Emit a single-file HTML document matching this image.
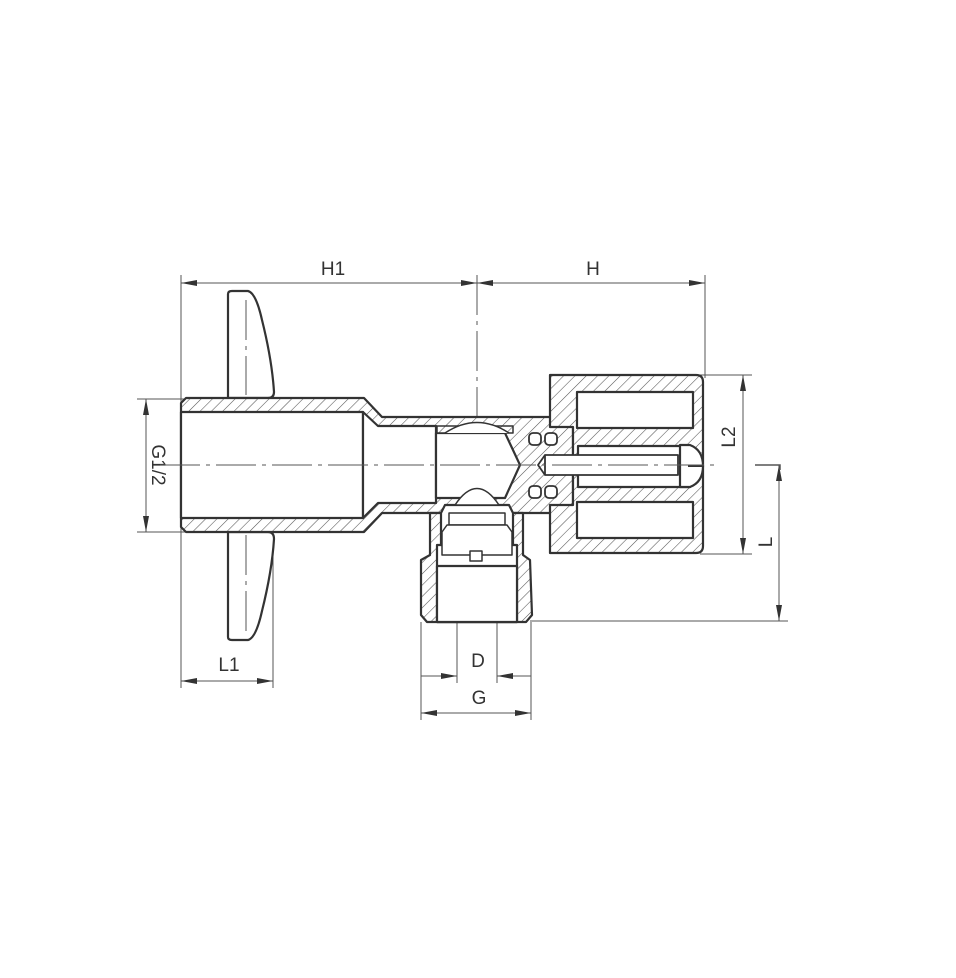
<!DOCTYPE html>
<html><head><meta charset="utf-8"><style>
html,body{margin:0;padding:0;background:#fff;}
svg{display:block}
text{font-family:"Liberation Sans",sans-serif;font-size:19px;fill:#333;}
</style></head><body>
<svg width="956" height="978" viewBox="0 0 956 978" xmlns="http://www.w3.org/2000/svg">
<defs>
<pattern id="h" width="8" height="8" patternUnits="userSpaceOnUse" patternTransform="rotate(45)">
<rect width="8" height="8" fill="#fff"/><line x1="0" y1="0" x2="0" y2="8" stroke="#555" stroke-width="1.1"/>
</pattern>
<marker id="a" viewBox="0 0 16 6" refX="16" refY="3" markerWidth="16" markerHeight="6" markerUnits="userSpaceOnUse" orient="auto-start-reverse">
<path d="M0,0 L16,3 L0,6 z" fill="#333"/></marker>
</defs>
<g stroke="#555" stroke-width="1" fill="none">
<!-- extension lines -->
<line x1="181" y1="275" x2="181" y2="688"/>
<line x1="477" y1="275" x2="477" y2="600" stroke-dasharray="40,6,4,6"/>
<line x1="705" y1="275" x2="705" y2="378"/>
<line x1="273" y1="530" x2="273" y2="688"/>
<line x1="137" y1="399" x2="185" y2="399"/>
<line x1="137" y1="532" x2="185" y2="532"/>
<line x1="700" y1="375" x2="752" y2="375"/>
<line x1="700" y1="554" x2="752" y2="554"/>
<line x1="530" y1="621" x2="788" y2="621"/>
<line x1="421" y1="622" x2="421" y2="720"/>
<line x1="531" y1="622" x2="531" y2="720"/>
<line x1="457" y1="622" x2="457" y2="683"/>
<line x1="497" y1="622" x2="497" y2="683"/>
<!-- dimension lines -->
<line x1="181" y1="283" x2="477" y2="283" marker-start="url(#a)" marker-end="url(#a)"/>
<line x1="477" y1="283" x2="705" y2="283" marker-start="url(#a)" marker-end="url(#a)"/>
<line x1="146" y1="399" x2="146" y2="532" marker-start="url(#a)" marker-end="url(#a)"/>
<line x1="181" y1="681" x2="273" y2="681" marker-start="url(#a)" marker-end="url(#a)"/>
<line x1="743" y1="375" x2="743" y2="554" marker-start="url(#a)" marker-end="url(#a)"/>
<line x1="779" y1="465" x2="779" y2="621" marker-start="url(#a)" marker-end="url(#a)"/>
<polyline points="755,465 780,465 780,470" stroke-width="1.5"/>
<line x1="421" y1="713" x2="531" y2="713" marker-start="url(#a)" marker-end="url(#a)"/>
<line x1="421" y1="676" x2="457" y2="676" marker-end="url(#a)"/>
<line x1="531" y1="676" x2="497" y2="676" marker-end="url(#a)"/>
</g>
<g fill="#333">
<text x="333" y="275" text-anchor="middle">H1</text>
<text x="593" y="275" text-anchor="middle">H</text>
<text x="229" y="671" text-anchor="middle">L1</text>
<text x="478" y="667" text-anchor="middle">D</text>
<text x="479" y="704" text-anchor="middle">G</text>
<text transform="translate(152,465) rotate(90)" text-anchor="middle">G1/2</text>
<text transform="translate(735,437) rotate(-90)" text-anchor="middle">L2</text>
<text transform="translate(772,542) rotate(-90)" text-anchor="middle">L</text>
</g>
<g stroke="#333" stroke-width="2.2" stroke-linejoin="round">
<!-- lever handle -->
<path d="M228,398 L228,294 Q228,291 232,291 L248,291 Q256,293 262,320 Q272,360 274,392 Q274,398 268,398 Z" fill="#fff"/>
<path d="M228,532 L228,637 Q228,640 232,640 L248,640 Q256,638 262,611 Q272,571 274,539 Q274,532 268,532 Z" fill="#fff"/>
<!-- pipe body hatched -->
<path d="M186,398 L364,398 L382,417 L573,417 L573,513 L382,513 L364,532 L186,532 L181,527 L181,403 Z" fill="url(#h)"/>
<!-- bottom outlet -->
<path d="M430,513 L523,513 L523,555 L530,560 L532,615 L526,622 L427,622 L421,615 L421,560 L430,555 Z" fill="url(#h)"/>
<!-- bonnet -->
<path d="M550,375 L696,375 Q703,375 703,382 L703,546 Q703,553 696,553 L550,553 L550,505 L573,505 L573,427 L550,427 Z" fill="url(#h)"/>
<!-- bores -->
<rect x="181" y="412" width="182" height="106" fill="#fff"/>
<path d="M363,412 L378,426 L436,426 L436,503 L378,503 L363,518 Z" fill="#fff"/>
<path d="M436,433 L505,433 L520,465 L505,498 L436,498 Z" fill="#fff"/>
<path d="M437,426 L513,426 L513,433 L437,433 Z" fill="url(#h)" stroke-width="1.5"/>
<path d="M445,433 Q477,412 509,433" fill="#fff" stroke-width="1.5"/>
<!-- cartridge -->
<rect x="437" y="545" width="80" height="77" fill="#fff"/>
<path d="M445,505 L509,505 L513,513 L513,545 L441,545 L441,513 Z" fill="#fff"/>
<rect x="449" y="513" width="56" height="12" fill="#fff" stroke-width="1.5"/>
<path d="M447,525 L507,525 L512,532 L512,555 L442,555 L442,532 Z" fill="#fff" stroke-width="1.5"/>
<rect x="470" y="551" width="12" height="10" fill="#fff" stroke-width="1.5"/>
<path d="M455,505 Q477,472 499,505 Z" fill="#fff" stroke-width="1.5"/>
<rect x="437" y="566" width="80" height="56" fill="#fff"/>
<!-- bonnet slots -->
<rect x="577" y="392" width="116" height="36" fill="#fff"/>
<rect x="577" y="502" width="116" height="36" fill="#fff"/>
<!-- spindle bore -->
<rect x="578" y="446" width="112" height="41" fill="#fff"/>
<rect x="545" y="455" width="133" height="20" fill="#fff" stroke-width="1.8"/>
<path d="M545,455 L538,465 L545,475" fill="none" stroke-width="1.8"/>
<path d="M680,445 L690,445 Q703,450 703,466 Q703,482 690,487 L680,487 Z" fill="#fff"/>
<line x1="688" y1="466" x2="703" y2="466" stroke-width="2"/>
<!-- o-rings -->
<rect x="529" y="433" width="12" height="12" rx="4" fill="#fff" stroke-width="1.8"/>
<rect x="545" y="433" width="12" height="12" rx="4" fill="#fff" stroke-width="1.8"/>
<rect x="529" y="486" width="12" height="12" rx="4" fill="#fff" stroke-width="1.8"/>
<rect x="545" y="486" width="12" height="12" rx="4" fill="#fff" stroke-width="1.8"/>
</g>
<!-- center lines -->
<g stroke="#555" stroke-width="1" stroke-dasharray="40,6,4,6" fill="none">
<line x1="160" y1="465" x2="720" y2="465"/>
<line x1="246" y1="300" x2="246" y2="395"/>
<line x1="246" y1="535" x2="246" y2="635"/>
</g>
</svg>
</body></html>
